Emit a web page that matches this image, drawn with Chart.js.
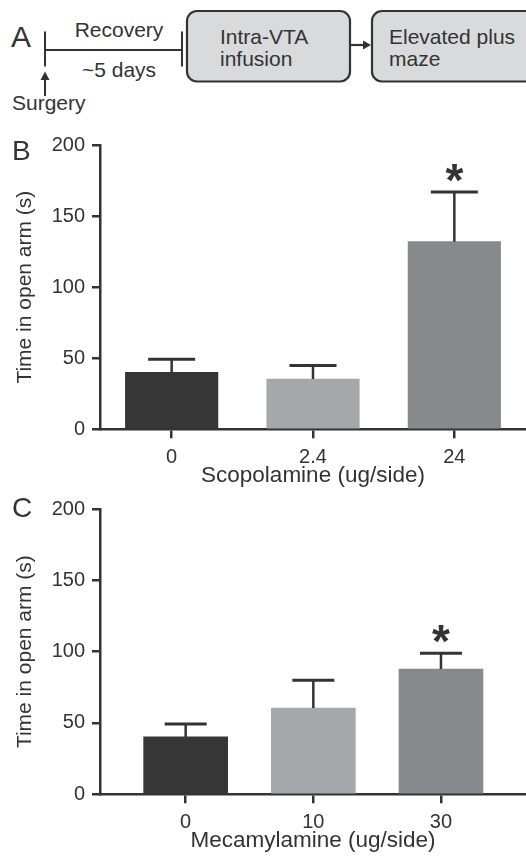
<!DOCTYPE html>
<html>
<head>
<meta charset="utf-8">
<script src="https://cdn.jsdelivr.net/npm/chart.js@4/dist/chart.umd.min.js"></script>
<style>
html,body{margin:0;padding:0;background:#fff;width:526px;height:856px;overflow:hidden;position:relative;}
canvas{position:absolute;left:0;}
.lbl{position:absolute;font-family:"Liberation Sans",Arial,sans-serif;color:#333;font-size:28px;line-height:28px;}
</style>
</head>
<body>
<svg width="526" height="120" style="position:absolute;left:0;top:0" font-family="Liberation Sans, Arial, sans-serif" fill="#333">
  <text x="11" y="46.5" font-size="30">A</text>
  <line x1="45" y1="31.5" x2="45" y2="66.5" stroke="#333" stroke-width="2"/>
  <line x1="45" y1="50" x2="182" y2="50" stroke="#333" stroke-width="2"/>
  <line x1="182" y1="31.5" x2="182" y2="66.5" stroke="#333" stroke-width="2"/>
  <text x="119" y="37" font-size="21" text-anchor="middle">Recovery</text>
  <text x="119" y="76.5" font-size="21" text-anchor="middle">~5 days</text>
  <line x1="45" y1="96" x2="45" y2="79" stroke="#333" stroke-width="2"/>
  <polygon points="45,71.5 40.5,80 49.5,80" fill="#333"/>
  <text x="12" y="110" font-size="21">Surgery</text>
  <rect x="187" y="11" width="163" height="70.5" rx="10" ry="10" fill="#d9dadc" stroke="#333" stroke-width="2.2"/>
  <text x="220" y="43.5" font-size="21">Intra-VTA</text>
  <text x="220" y="65.5" font-size="21">infusion</text>
  <line x1="351" y1="45" x2="364" y2="45" stroke="#333" stroke-width="2.2"/>
  <polygon points="371,45 363,40.5 363,49.5" fill="#333"/>
  <rect x="372" y="11" width="180" height="70.5" rx="10" ry="10" fill="#d9dadc" stroke="#333" stroke-width="2.2"/>
  <text x="389" y="43.5" font-size="21">Elevated plus</text>
  <text x="389" y="65.5" font-size="21">maze</text>
</svg>

<canvas id="cB" width="526" height="366" style="top:125px"></canvas>
<canvas id="cC" width="526" height="367" style="top:489px"></canvas>
<div class="lbl" style="left:12px;top:137px">B</div>
<div class="lbl" style="left:12px;top:494px">C</div>

<script>
// ---- data ----
const scopCategories = ['0', '2.4', '24'];
const scopMeans = [40, 35.4, 132];
const scopSem = [9.2, 9.4, 35];
const scopSig = ['', '', '*'];

const mecaCategories = ['0', '10', '30'];
const mecaMeans = [40.2, 60.5, 87.8];
const mecaSem = [9.1, 19.4, 11];
const mecaSig = ['', '', '*'];

const yTicks = [0, 50, 100, 150, 200];
const barColors = ['#363636', '#a6a7aa', '#88898c'];

const FONT = '"Liberation Sans", Arial, sans-serif';
const INK = '#333';

const errorBarPlugin = {
  id: 'errbars',
  afterDatasetsDraw(chart) {
    const ds = chart.data.datasets[0];
    const meta = chart.getDatasetMeta(0);
    const ys = chart.scales.y;
    const ctx = chart.ctx;
    ctx.save();
    meta.data.forEach((el, i) => {
      const m = ds.means[i], s = ds.sems[i];
      const x = el.x;
      const yTop = ys.getPixelForValue(m);
      const yErr = ys.getPixelForValue(m + s);
      const half = ds.capW / 2;
      ctx.strokeStyle = INK;
      ctx.lineWidth = 2.5;
      ctx.beginPath();
      ctx.moveTo(x, yTop);
      ctx.lineTo(x, yErr);
      ctx.stroke();
      ctx.lineWidth = 3;
      ctx.beginPath();
      ctx.moveTo(x - half, yErr);
      ctx.lineTo(x + half, yErr);
      ctx.stroke();
      if (ds.sigs[i]) {
        ctx.fillStyle = INK;
        ctx.font = 'bold 46px ' + FONT;
        ctx.textAlign = 'center';
        ctx.textBaseline = 'alphabetic';
        ctx.fillText(ds.sigs[i], x, yErr - 22 + 0.56 * 46);
      }
    });
    ctx.restore();
  }
};

function makeChart(id, cats, means, sems, sigs, xmin, xmax, barW, capW, xTitle) {
  return new Chart(document.getElementById(id), {
    type: 'bar',
    data: {
      datasets: [{
        data: cats.map((c, i) => ({ x: i, y: means[i] })),
        backgroundColor: barColors,
        borderWidth: 0,
        barThickness: barW,
        means: means, sems: sems, sigs: sigs, capW: capW
      }]
    },
    options: {
      responsive: false,
      animation: false,
      events: [],
      layout: { padding: { top: 20, left: 0, right: 0, bottom: 0 } },
      plugins: { legend: { display: false }, tooltip: { enabled: false } },
      scales: {
        x: {
          type: 'linear', min: xmin, max: xmax, offset: false,
          afterBuildTicks: s => { s.ticks = cats.map((c, i) => ({ value: i })); },
          afterFit: s => { s.height = 61.7; },
          ticks: {
            callback: v => cats[v] !== undefined ? cats[v] : '',
            font: { size: 20, family: FONT }, color: INK, padding: 7,
            maxRotation: 0, autoSkip: false
          },
          grid: { offset: false, drawOnChartArea: false, drawTicks: true, tickLength: 9, color: INK, lineWidth: 2.5 },
          border: { display: true, color: INK, width: 2.5 },
          title: { display: true, text: xTitle, font: { size: 22.5, family: FONT }, color: INK, padding: { top: 0, bottom: 2 } }
        },
        y: {
          min: 0, max: 200,
          afterBuildTicks: s => { s.ticks = yTicks.map(v => ({ value: v })); },
          afterFit: s => { s.width = 100; },
          ticks: { font: { size: 20, family: FONT }, color: INK, padding: 7 },
          grid: { offset: false, drawOnChartArea: false, drawTicks: true, tickLength: 8, color: INK, lineWidth: 2.5 },
          border: { display: true, color: INK, width: 2.5 },
          title: { display: true, text: 'Time in open arm (s)', font: { size: 21, family: FONT }, color: INK, padding: { top: 12.5, bottom: 0 } }
        }
      }
    },
    plugins: [errorBarPlugin]
  });
}

makeChart('cB', scopCategories, scopMeans, scopSem, scopSig, -0.507, 2.507, 92.5, 47, 'Scopolamine (ug/side)');
makeChart('cC', mecaCategories, mecaMeans, mecaSem, mecaSig, -0.671, 2.666, 84, 42, 'Mecamylamine (ug/side)');
</script>
</body>
</html>
